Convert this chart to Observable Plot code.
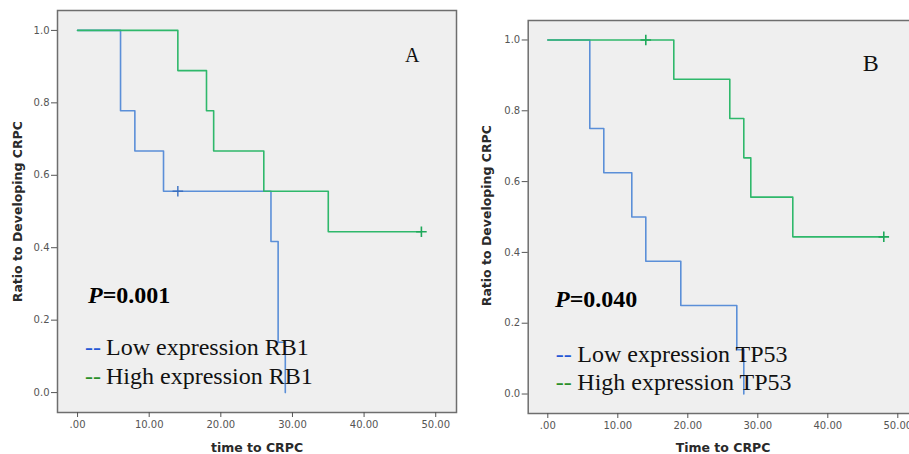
<!DOCTYPE html>
<html><head><meta charset="utf-8">
<script src="https://cdn.jsdelivr.net/npm/d3@7"></script>
<script src="https://cdn.jsdelivr.net/npm/@observablehq/plot@0.6"></script>
<style>
html,body{margin:0;padding:0;width:909px;height:454px;overflow:hidden;background:#fff;}
.panel{position:absolute;top:0;width:460px;height:454px;}
.panel svg{max-width:none !important;}
</style></head><body>
<div id="pa" class="panel" style="left:0"></div>
<div id="pb" class="panel" style="left:460px"></div>
<script>
// ---- Data ----
const xTicks = [0, 10, 20, 30, 40, 50];
const yTicks = [0, 0.2, 0.4, 0.6, 0.8, 1.0];

// Panel A (RB1)
const aLowTime  = [0, 6, 8, 12, 27, 28, 29];
const aLowSurv  = [1, 0.778, 0.667, 0.556, 0.417, 0.139, 0];
const aLowCensorTime = [14];
const aLowCensorSurv = [0.556];
const aHighTime = [0, 14, 18, 19, 26, 35, 48];
const aHighSurv = [1, 0.889, 0.778, 0.667, 0.556, 0.444, 0.444];
const aHighCensorTime = [48];
const aHighCensorSurv = [0.444];

// Panel B (TP53)
const bLowTime  = [0, 6, 8, 12, 14, 19, 27, 28];
const bLowSurv  = [1, 0.75, 0.625, 0.5, 0.375, 0.25, 0.125, 0];
const bLowCensorTime = [];
const bLowCensorSurv = [];
const bHighTime = [0, 18, 26, 28, 29, 35, 48];
const bHighSurv = [1, 0.889, 0.778, 0.667, 0.556, 0.444, 0.444];
const bHighCensorTime = [14, 48];
const bHighCensorSurv = [1, 0.444];

const blue = "#5b8fd8", green = "#2fb86b";
const legBlue = "#2457d6", legGreen = "#2a8f2a";

const zip = (t, s) => t.map((d, i) => ({t: d, s: s[i]}));
const fmtX = d => d === 0 ? ".00" : d.toFixed(2);

function panel(cfg) {
  const svg = Plot.plot({
    width: cfg.width, height: 454,
    marginLeft: cfg.ml, marginRight: cfg.mr, marginTop: cfg.mt, marginBottom: cfg.mb,
    x: {domain: [-2.8, 52.9]},
    y: {domain: [-0.055, 1.055]},
    style: {fontFamily: "DejaVu Sans", fontSize: "10px", color: "#555", background: "transparent", overflow: "visible", maxWidth: "none"},
    marks: [
      Plot.frame({fill: "#efefef", stroke: "#6e6e6e", strokeWidth: 1.5}),
      Plot.axisY({ticks: yTicks, tickFormat: d3.format(".1f"), tickSize: 6, tickPadding: 2, label: null}),
      Plot.axisX({ticks: xTicks, tickFormat: fmtX, tickSize: 5, tickPadding: 3, label: null}),
      Plot.line(zip(cfg.lowT, cfg.lowS), {x: "t", y: "s", curve: "step-after", stroke: blue, strokeWidth: 1.6}),
      Plot.line(zip(cfg.highT, cfg.highS), {x: "t", y: "s", curve: "step-after", stroke: green, strokeWidth: 1.6}),
      Plot.dot(zip(cfg.lowCT, cfg.lowCS), {x: "t", y: "s", symbol: "plus", r: 3.5, stroke: "#3a6fc0", strokeWidth: 1.4}),
      Plot.dot(zip(cfg.highCT, cfg.highCS), {x: "t", y: "s", symbol: "plus", r: 3.5, stroke: "#1fa85a", strokeWidth: 1.6})
    ]
  });
  const g = d3.select(svg).append("g").attr("text-anchor", "start");
  // panel letter
  g.append("text").attr("x", cfg.letter[0]).attr("y", cfg.letter[1]).attr("text-anchor", "start")
    .attr("font-family", "Liberation Serif").attr("font-size", cfg.letter[2]).attr("fill", "#111").text(cfg.letterText);
  // P value
  const p = g.append("text").attr("x", cfg.p[0]).attr("y", cfg.p[1]).attr("text-anchor", "start")
    .attr("font-family", "Liberation Serif").attr("font-size", 24).attr("font-weight", "bold").attr("fill", "#000");
  p.append("tspan").attr("font-style", "italic").text("P");
  p.append("tspan").text(cfg.pText);
  // legend
  cfg.legend.forEach((l, i) => {
    g.append("text").attr("x", cfg.leg[0]).attr("y", cfg.leg[2] + i * cfg.leg[3]).attr("text-anchor", "start")
      .attr("font-family", "Liberation Serif").attr("font-size", 24).attr("fill", l.c).text("--");
    g.append("text").attr("x", cfg.leg[1]).attr("y", cfg.leg[2] + i * cfg.leg[3]).attr("text-anchor", "start")
      .attr("font-family", "Liberation Serif").attr("font-size", 24).attr("fill", "#111").text(l.label);
  });
  // axis titles
  g.append("text").attr("x", cfg.xt[0]).attr("y", cfg.xt[1]).attr("text-anchor", "middle")
    .attr("dominant-baseline", "central").attr("font-family", "DejaVu Sans").attr("font-weight", "bold")
    .attr("font-size", 12.5).attr("fill", "#2a2a2a").text(cfg.xTitle);
  g.append("text").attr("transform", `translate(${cfg.yt[0]},${cfg.yt[1]}) rotate(-90)`).attr("text-anchor", "middle")
    .attr("dominant-baseline", "central").attr("font-family", "DejaVu Sans").attr("font-weight", "bold")
    .attr("font-size", 12.5).attr("fill", "#2a2a2a").text("Ratio to Developing CRPC");
  return svg;
}

document.getElementById("pa").appendChild(panel({
  width: 460, ml: 57, mr: 4, mt: 10, mb: 42,
  lowT: aLowTime, lowS: aLowSurv, highT: aHighTime, highS: aHighSurv,
  lowCT: aLowCensorTime, lowCS: aLowCensorSurv, highCT: aHighCensorTime, highCS: aHighCensorSurv,
  letter: [405, 61.5, 20], letterText: "A",
  p: [88, 303], pText: "=0.001",
  leg: [85, 106, 355, 28.5],
  legend: [{c: legBlue, label: "Low expression RB1"}, {c: legGreen, label: "High expression RB1"}],
  xt: [257, 447.5], xTitle: "time to CRPC",
  yt: [17, 211.7]
}));

document.getElementById("pb").appendChild(panel({
  width: 460, ml: 67.7, mr: 2.4, mt: 20, mb: 41,
  lowT: bLowTime, lowS: bLowSurv, highT: bHighTime, highS: bHighSurv,
  lowCT: bLowCensorTime, lowCS: bLowCensorSurv, highCT: bHighCensorTime, highCS: bHighCensorSurv,
  letter: [402.7, 71, 24], letterText: "B",
  p: [95, 306.5], pText: "=0.040",
  leg: [95.7, 117.3, 361.7, 28.3],
  legend: [{c: legBlue, label: "Low expression TP53"}, {c: legGreen, label: "High expression TP53"}],
  xt: [263, 447.7], xTitle: "Time to CRPC",
  yt: [26.7, 215.7]
}));
</script>
</body></html>
